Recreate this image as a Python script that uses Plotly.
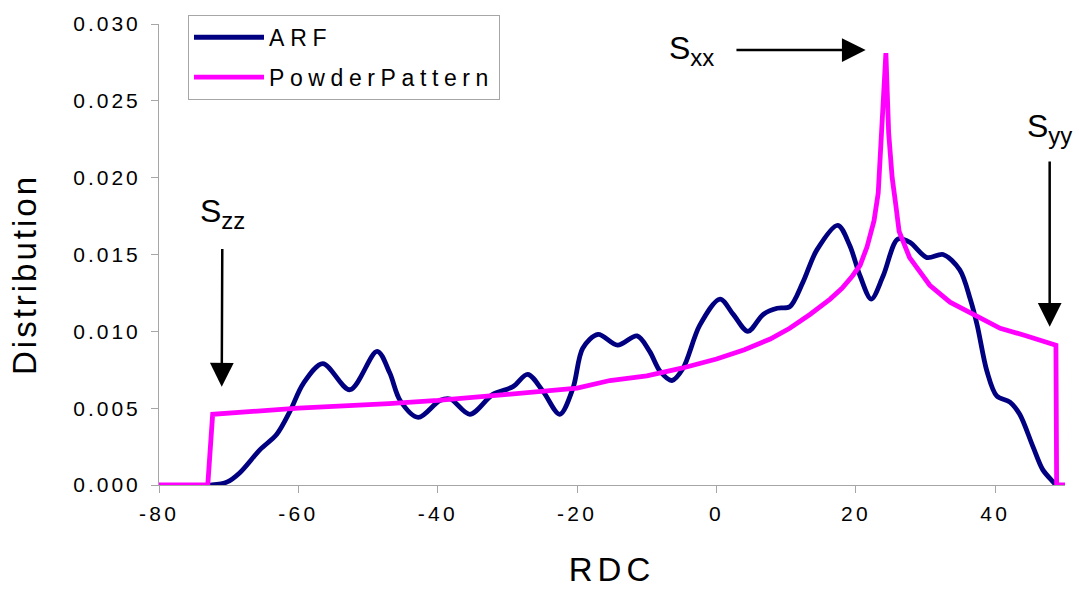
import plotly.graph_objects as go

# ---- data ----
arf_x = [-73.0, -72.4, -70.2, -68.4, -65.5, -63.1, -61.2, -59.3, -56.5, -52.6, -48.7, -46.9,
         -45.4, -42.8, -39.7, -38.2, -35.4, -32.1, -29.2, -27.1, -24.9, -22.5, -20.6, -19.2,
         -17.0, -14.2, -11.4, -9.6, -8.1, -6.4, -4.8, -2.4, 0.5, 2.4, 4.5, 6.7, 8.7, 10.5,
         12.4, 14.4, 17.4, 19.1, 20.6, 22.2, 23.9, 26.0, 27.7, 30.2, 32.5, 34.9, 36.4, 37.4,
         38.8, 40.2, 42.1, 43.5, 45.4, 46.8, 48.3, 48.7]
arf_y = [0.0, 0.0, 0.0002, 0.0008, 0.0023, 0.0033, 0.0048, 0.0066, 0.0079, 0.0062, 0.0087, 0.0073,
         0.0055, 0.0044, 0.0055, 0.0056, 0.0046, 0.0059, 0.0064, 0.0072, 0.0061, 0.0046, 0.0063, 0.0089,
         0.0098, 0.0091, 0.0097, 0.0087, 0.0074, 0.0068, 0.0076, 0.0104, 0.0121, 0.0111, 0.0100, 0.0111,
         0.0115, 0.0116, 0.0132, 0.0153, 0.0169, 0.0156, 0.0136, 0.0121, 0.0136, 0.0160, 0.0158, 0.0148,
         0.0150, 0.0140, 0.0121, 0.0104, 0.0074, 0.0058, 0.0054, 0.0046, 0.0025, 0.0010, 0.0002, 0.0]

pp_x = [-80, -73.0, -72.3, -60, -47, -40, -30, -20, -15.3, -10, -5, 0, 4, 7.7, 10.5, 13.4,
        16.3, 18.0, 19.5, 20.6, 21.6, 22.6, 23.2, 23.6, 24.3, 24.7, 25.2, 25.7, 26.2, 27.7,
        30.6, 33.5, 36.8, 40.7, 44.5, 48.7, 48.8, 50]
pp_y = [0.0, 0.0, 0.0046, 0.0050, 0.0053, 0.0055, 0.0059, 0.0063, 0.0068, 0.0071, 0.0076, 0.0082,
        0.0088, 0.0095, 0.0102, 0.0111, 0.0121, 0.0128, 0.0136, 0.0143, 0.0155, 0.0172, 0.0190,
        0.0229, 0.0281, 0.0229, 0.0200, 0.0183, 0.0165, 0.0148, 0.0130, 0.0119, 0.0111, 0.0102,
        0.0097, 0.0091, 0.0, 0.0]

x_ticks = [-80, -60, -40, -20, 0, 20, 40]
x_tick_labels = ["-80", "-60", "-40", "-20", "0", "20", "40"]
y_ticks = [0.000, 0.005, 0.010, 0.015, 0.020, 0.025, 0.030]
y_tick_labels = ["0.000", "0.005", "0.010", "0.015", "0.020", "0.025", "0.030"]

series_names = ["ARF", "PowderPattern"]
x_title = "RDC"
y_title = "Distribution"

FONT = "Liberation Sans, Arial, sans-serif"
AXIS_GRAY = "#a6a6a6"


def spaced(text, px, tail=None):
    """Wrap text in a letter-spaced span; optional extra trailing space after the last glyph."""
    if tail is None:
        return '<span style="letter-spacing:%.1fpx">%s</span>' % (px, text)
    return ('<span style="letter-spacing:%.1fpx">%s</span>'
            '<span style="letter-spacing:%.1fpx">%s</span>' % (px, text[:-1], tail, text[-1]))


fig = go.Figure()
fig.add_trace(go.Scatter(x=arf_x, y=arf_y, mode="lines", name=spaced(series_names[0], 5.8),
                         line=dict(color="#000080", width=4.8, shape="spline", smoothing=0.9),
                         legendgroup="a"))
fig.add_trace(go.Scatter(x=pp_x, y=pp_y, mode="lines", name=spaced(series_names[1], 5.6),
                         line=dict(color="#ff00ff", width=4.8), legendgroup="b"))

fig.update_layout(
    width=1079, height=593,
    margin=dict(l=159, r=14, t=19, b=108),
    paper_bgcolor="white", plot_bgcolor="white",
    font=dict(family=FONT, color="black", size=21),
    showlegend=True,
    legend=dict(x=0.032, y=1.02, xanchor="left", yanchor="top",
                bgcolor="white", bordercolor=AXIS_GRAY, borderwidth=1,
                font=dict(size=23), tracegroupgap=7, itemwidth=70),
)
fig.update_xaxes(range=[-80, 50], tickvals=x_ticks,
                 ticktext=[spaced(t, 3.3) for t in x_tick_labels],
                 showgrid=False, zeroline=False,
                 showline=True, linecolor=AXIS_GRAY, linewidth=1,
                 ticks="outside", ticklen=7, tickcolor=AXIS_GRAY,
                 tickfont=dict(size=21), ticklabelstandoff=3,
                 title=dict(text=spaced(x_title, 5.0), font=dict(size=33), standoff=33))
fig.update_yaxes(range=[0, 0.030], tickvals=y_ticks,
                 ticktext=[spaced(t, 3.0) for t in y_tick_labels],
                 showgrid=False, zeroline=False, showline=True, linecolor=AXIS_GRAY, linewidth=1,
                 ticks="outside", ticklen=7, tickcolor=AXIS_GRAY,
                 tickfont=dict(size=21), ticklabelstandoff=6,
                 title=dict(text=spaced(y_title, 3.0, tail=43.0), font=dict(size=33), standoff=26))

ann_font = dict(family=FONT, size=32, color="black")
arrow_kw = dict(showarrow=True, arrowhead=2, arrowsize=1.9, arrowwidth=2.5,
                arrowcolor="black", axref="x", ayref="y", font=ann_font, standoff=0)
# S_zz : label above, arrow pointing down at the start of the pattern
fig.add_annotation(text='S<sub><span style="font-size:24px">zz</span></sub>',
                   x=-71.0, y=0.0064, ax=-70.9, ay=0.0177, borderpad=15, **arrow_kw)
# S_xx : label left, arrow pointing right at the peak
fig.add_annotation(text='S<sub><span style="font-size:24px">xx</span></sub>',
                   x=21.4, y=0.0283, ax=-3.6, ay=0.0283, borderpad=22, **arrow_kw)
# S_yy : label above, arrow pointing down at the upper edge
fig.add_annotation(text='S<sub><span style="font-size:24px">yy</span></sub>',
                   x=47.8, y=0.0103, ax=47.8, ay=0.0232, borderpad=12, **arrow_kw)

fig.write_html("out.html", config={"displayModeBar": False},
               post_script="document.body.style.margin='0px';")
